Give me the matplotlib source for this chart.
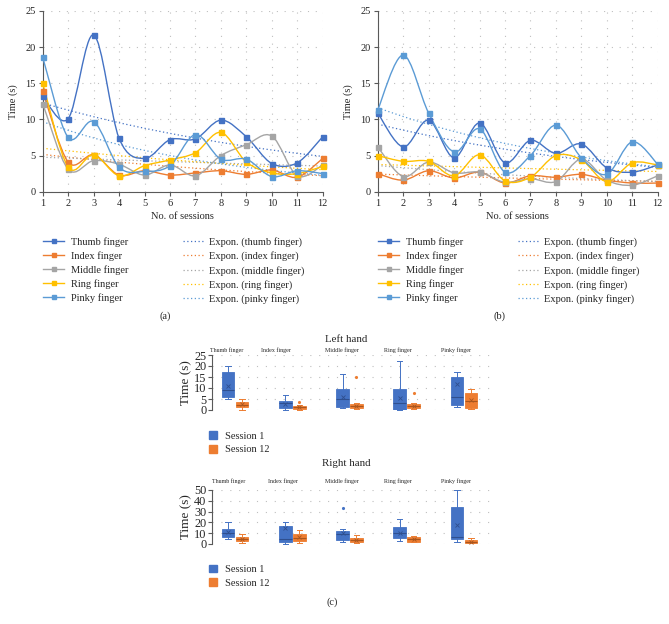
import numpy as np
import matplotlib
matplotlib.use('Agg')
import matplotlib.pyplot as plt
from matplotlib.path import Path
from matplotlib.patches import PathPatch, Patch
from matplotlib.lines import Line2D

plt.rcParams['font.family'] = ['Liberation Serif', 'DejaVu Serif']

# ---------------- data ----------------
sessions = list(range(1, 13))
series_names = ['Thumb finger', 'Index finger', 'Middle finger', 'Ring finger', 'Pinky finger']
trend_names = ['Expon. (thumb finger)', 'Expon. (index finger)', 'Expon. (middle finger)',
               'Expon. (ring finger)', 'Expon. (pinky finger)']

a_thumb = [13.2, 10.1, 21.7, 7.4, 4.6, 7.2, 7.3, 9.9, 7.6, 3.9, 4.0, 7.6]
a_index = [13.9, 4.1, 5.1, 2.3, 2.9, 2.3, 2.6, 2.9, 2.4, 3.0, 2.0, 4.6]
a_middle = [12.2, 3.1, 4.3, 3.8, 2.3, 3.7, 2.2, 5.0, 6.5, 7.7, 2.2, 3.7]
a_ring = [15.0, 3.4, 5.1, 2.2, 3.6, 4.4, 5.4, 8.2, 4.1, 2.6, 2.5, 3.5]
a_pinky = [18.6, 7.5, 9.7, 3.4, 2.8, 3.6, 7.9, 4.5, 4.5, 2.1, 2.9, 2.5]

b_thumb = [10.9, 6.2, 9.9, 4.7, 9.5, 4.0, 7.1, 5.3, 6.6, 3.3, 2.7, 3.7]
b_index = [2.5, 1.6, 2.9, 1.9, 2.7, 1.2, 2.2, 2.0, 2.4, 1.6, 1.2, 1.2]
b_middle = [6.2, 2.1, 4.1, 2.6, 2.7, 1.3, 1.8, 1.4, 4.5, 1.6, 0.9, 2.2]
b_ring = [5.0, 4.2, 4.2, 2.2, 5.1, 1.5, 2.0, 5.0, 4.4, 1.4, 4.0, 3.7]
b_pinky = [11.3, 18.9, 10.9, 5.5, 8.7, 2.7, 5.0, 9.2, 4.7, 2.4, 6.9, 3.8]

finger_labels = ['Thumb finger', 'Index finger', 'Middle finger', 'Ring finger', 'Pinky finger']
box_groups = ['Session 1', 'Session 12']

lh_s1_whislo = [5.0, 0.0, 1.0, 0.0, 1.3]
lh_s1_q1 = [6.1, 1.1, 1.5, 0.0, 2.3]
lh_s1_med = [9.1, 3.0, 4.8, 3.0, 6.1]
lh_s1_q3 = [17.1, 4.0, 9.4, 9.4, 15.0]
lh_s1_whishi = [20.0, 6.7, 16.2, 22.4, 17.5]
lh_s1_mean = [10.9, 2.6, 6.0, 5.3, 11.7]
lh_s1_fliers = [[], [], [], [], []]

lh_s12_whislo = [0.0, 0.2, 0.3, 0.5, 0.5]
lh_s12_q1 = [1.2, 0.5, 0.8, 0.9, 0.8]
lh_s12_med = [2.3, 1.2, 1.7, 1.9, 4.1]
lh_s12_q3 = [3.6, 1.7, 2.7, 2.6, 7.9]
lh_s12_whishi = [5.1, 2.3, 3.3, 3.0, 9.4]
lh_s12_mean = [2.8, 1.2, 2.0, 2.0, 4.5]
lh_s12_fliers = [[], [3.6], [14.9], [7.9], []]

rh_s1_whislo = [4.3, 0.0, 1.9, 2.8, 2.2]
rh_s1_q1 = [6.8, 1.5, 3.4, 5.2, 4.3]
rh_s1_med = [9.9, 5.0, 9.0, 9.9, 6.8]
rh_s1_q3 = [13.9, 17.0, 12.0, 15.4, 34.0]
rh_s1_whishi = [20.7, 20.0, 13.6, 23.0, 50.0]
rh_s1_mean = [11.4, 15.0, 10.5, 10.0, 17.6]
rh_s1_fliers = [[], [], [33.0], [], []]

rh_s12_whislo = [0.9, 0.9, 0.9, 1.8, 0.5]
rh_s12_q1 = [2.8, 2.8, 2.2, 2.2, 0.9]
rh_s12_med = [4.6, 6.0, 3.6, 4.3, 2.2]
rh_s12_q3 = [6.8, 9.0, 5.9, 6.5, 3.7]
rh_s12_whishi = [9.6, 13.0, 8.0, 7.4, 5.2]
rh_s12_mean = [5.0, 6.5, 4.0, 4.5, 2.0]
rh_s12_fliers = [[], [], [], [], []]

# ---------------- style ----------------
colors = ['#4472C4', '#ED7D31', '#A5A5A5', '#FFC000', '#5B9BD5']
box_colors = ['#4472C4', '#ED7D31']
median_colors = ['#2F4F8F', '#A9561E']
grid_color = '#BFBFBF'
spine_color = '#595959'
text_color = '#262626'

W, H = 669, 624
fig = plt.figure(figsize=(W / 100, H / 100), dpi=100)


def fx(px):
    return px / W


def fy(py):
    return 1 - py / H


def smooth_patch(x, y, color):
    pts = np.column_stack([x, y]).astype(float)
    n = len(pts)
    verts = [tuple(pts[0])]
    codes = [Path.MOVETO]
    for i in range(n - 1):
        p0 = pts[i - 1] if i > 0 else pts[i]
        p1 = pts[i]
        p2 = pts[i + 1]
        p3 = pts[i + 2] if i + 2 < n else pts[i + 1]
        c1 = p1 + (p2 - p0) / 6.0
        c2 = p2 - (p3 - p1) / 6.0
        verts += [tuple(c1), tuple(c2), tuple(p2)]
        codes += [Path.CURVE4] * 3
    return PathPatch(Path(verts, codes), fill=False, edgecolor=color, lw=1.0, clip_on=False, zorder=3)


def line_panel(rect, data):
    ax = fig.add_axes(rect)
    x = np.array(sessions, dtype=float)
    for vals, c in zip(data, colors):
        y = np.array(vals, dtype=float)
        b, lna = np.polyfit(x, np.log(y), 1)
        xt = np.linspace(1, 12, 100)
        ax.plot(xt, np.exp(lna) * np.exp(b * xt), color=c, lw=0.9, ls=(0, (1, 2)), zorder=2)
    for vals, c in zip(data, colors):
        ax.add_patch(smooth_patch(sessions, vals, c))
        ax.plot(sessions, vals, ls='none', marker='s', ms=3.6, mfc=c, mec=c, clip_on=False, zorder=4)
    ax.set_xlim(1, 12)
    ax.set_ylim(0, 25)
    ax.set_xticks(sessions)
    ax.set_yticks([0, 5, 10, 15, 20, 25])
    ax.tick_params(labelsize=7.5, length=3, width=0.8, color=spine_color, labelcolor=text_color, pad=2)
    for s in ['top', 'right']:
        ax.spines[s].set_visible(False)
    for s in ['left', 'bottom']:
        ax.spines[s].set_color(spine_color)
        ax.spines[s].set_linewidth(0.8)
    ax.grid(True, color=grid_color, lw=0.8, ls=(0, (1, 6)))
    ax.set_axisbelow(True)
    ax.set_xlabel('No. of sessions', fontsize=7.5, color=text_color, labelpad=3)
    ax.set_ylabel('Time (s)', fontsize=7.5, color=text_color, labelpad=5)
    h1 = [Line2D([], [], color=c, lw=1.0, marker='s', ms=3.4) for c in colors]
    h2 = [Line2D([], [], color=c, lw=0.9, ls=(0, (1, 2))) for c in colors]
    x0 = rect[0]
    kw = dict(bbox_transform=fig.transFigure, frameon=False, fontsize=7.5, borderpad=0,
              borderaxespad=0, handlelength=2.0, labelspacing=0.42, labelcolor=text_color)
    leg1 = ax.legend(h1, series_names, loc='upper left', bbox_to_anchor=(x0 + fx(0.5), fy(237)),
                     handletextpad=0.7, **kw)
    ax.add_artist(leg1)
    ax.legend(h2, trend_names, loc='upper left', bbox_to_anchor=(x0 + fx(140), fy(237)),
              handletextpad=0.5, **kw)
    return ax


line_panel([fx(42.7), fy(191.7), fx(280), 180.7 / H],
           [a_thumb, a_index, a_middle, a_ring, a_pinky])
line_panel([fx(377.7), fy(191.7), fx(280), 180.7 / H],
           [b_thumb, b_index, b_middle, b_ring, b_pinky])
fig.text(fx(165), fy(316), '(a)', ha='center', va='center', fontsize=7.5, color=text_color)
fig.text(fx(500), fy(316), '(b)', ha='center', va='center', fontsize=7.5, color=text_color)


def make_stats(whislo, q1, med, q3, whishi, mean, fliers):
    out = []
    for i in range(len(med)):
        out.append(dict(whislo=whislo[i], q1=q1[i], med=med[i], q3=q3[i], whishi=whishi[i],
                        mean=mean[i], fliers=fliers[i]))
    return out


def box_panel(top_px, bottom_px, ymax, yticks, s1, s12, title, title_y, labels_y, leg_y):
    ax = fig.add_axes([fx(211.7), fy(bottom_px), fx(281.3), (bottom_px - top_px) / H])
    pos = np.arange(1, 6)
    for st, c, mc, off in zip([s1, s12], box_colors, median_colors, [-0.122, 0.122]):
        ax.bxp(st, positions=pos + off, widths=0.225, patch_artist=True, showmeans=True,
               boxprops=dict(facecolor=c, edgecolor=c, lw=0.6),
               medianprops=dict(color=mc, lw=0.8),
               whiskerprops=dict(color=c, lw=0.7),
               capprops=dict(color=c, lw=0.7), capwidths=0.09,
               meanprops=dict(marker='x', ms=2.5, mec=mc, mew=0.6),
               flierprops=dict(marker='.', ms=2.5, mfc=c, mec=c),
               manage_ticks=False)
    for art in ax.get_children():
        if isinstance(art, Line2D):
            art.set_clip_on(False)
    ax.set_xlim(0.593, 5.507)
    ax.set_ylim(0, ymax)
    ax.set_yticks(yticks)
    ax.set_xticks([])
    for s in ['top', 'right', 'bottom']:
        ax.spines[s].set_visible(False)
    ax.spines['left'].set_color(spine_color)
    ax.spines['left'].set_linewidth(0.8)
    ax.tick_params(axis='y', labelsize=8.8, length=3, width=0.8, color=spine_color,
                   labelcolor=text_color, pad=1)
    ax.yaxis.grid(True, color=grid_color, lw=0.8, ls=(0, (1, 7)))
    ax.set_axisbelow(True)
    ax.set_ylabel('Time (s)', fontsize=9.5, color=text_color, labelpad=1)
    fig.text(fx(346), fy(title_y), title, ha='center', va='center', fontsize=7.8, color=text_color)
    for name, xc in zip(finger_labels, labels_y[0]):
        fig.text(fx(xc), fy(labels_y[1]), name, ha='center', va='center', fontsize=4.3,
                 color=text_color)
    hs = [Patch(facecolor=c, edgecolor=c) for c in box_colors]
    ax.legend(hs, box_groups, loc='upper left', bbox_to_anchor=(fx(209), fy(leg_y)),
              bbox_transform=fig.transFigure, frameon=False, fontsize=7.5, borderpad=0,
              borderaxespad=0, handlelength=0.8, handleheight=0.8, handletextpad=0.7,
              labelspacing=0.4, labelcolor=text_color)
    return ax


box_panel(355, 410, 25, [0, 5, 10, 15, 20, 25],
          make_stats(lh_s1_whislo, lh_s1_q1, lh_s1_med, lh_s1_q3, lh_s1_whishi, lh_s1_mean, lh_s1_fliers),
          make_stats(lh_s12_whislo, lh_s12_q1, lh_s12_med, lh_s12_q3, lh_s12_whishi, lh_s12_mean, lh_s12_fliers),
          'Left hand', 339, ([227, 276, 342, 398, 456], 350), 431)
box_panel(490, 544, 50, [0, 10, 20, 30, 40, 50],
          make_stats(rh_s1_whislo, rh_s1_q1, rh_s1_med, rh_s1_q3, rh_s1_whishi, rh_s1_mean, rh_s1_fliers),
          make_stats(rh_s12_whislo, rh_s12_q1, rh_s12_med, rh_s12_q3, rh_s12_whishi, rh_s12_mean, rh_s12_fliers),
          'Right hand', 464, ([229, 283, 342, 398, 456], 481), 564.5)
fig.text(fx(332), fy(602), '(c)', ha='center', va='center', fontsize=7.5, color=text_color)

fig.savefig('out.png', dpi=100, facecolor='white')
